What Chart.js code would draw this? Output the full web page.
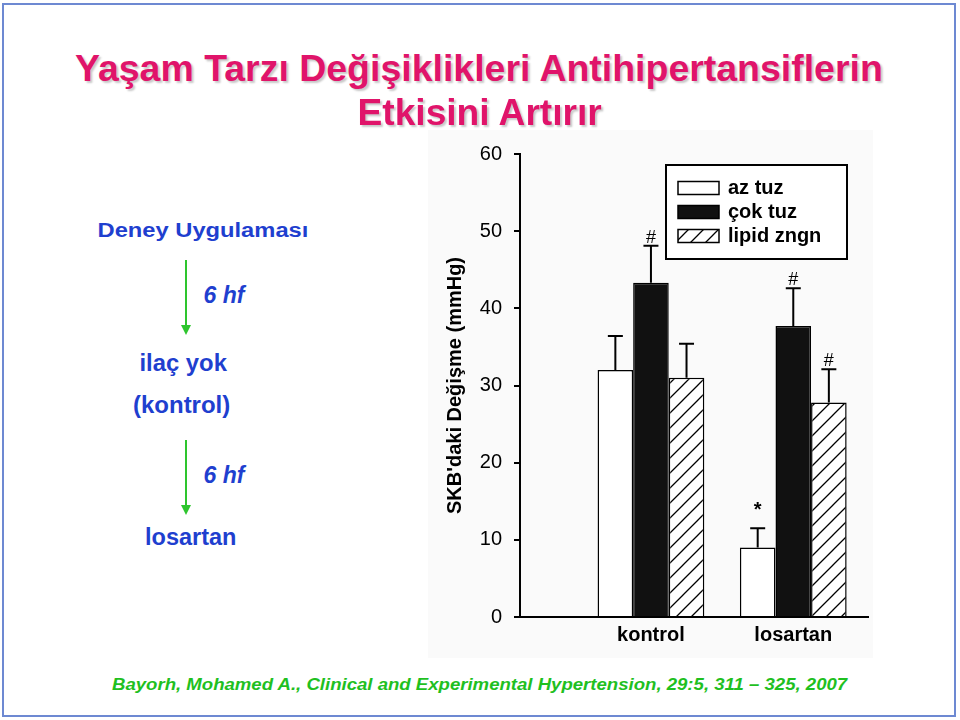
<!DOCTYPE html>
<html>
<head>
<meta charset="utf-8">
<script src="https://cdn.jsdelivr.net/npm/chart.js@4.4.1/dist/chart.umd.min.js"></script>
<style>
body{margin:0;background:#fff;font-family:"Liberation Sans",Arial,sans-serif;}
#page{position:relative;width:960px;height:720px;overflow:hidden;background:#fff;}
#frame{position:absolute;left:2px;top:3px;width:950px;height:710px;border:2px solid #6d89d2;}
.txt{position:absolute;white-space:nowrap;transform-origin:center top;}
.title{text-shadow:2px 2px 2px rgba(0,0,0,0.22);}
#chartBox{position:absolute;left:428px;top:130px;width:445px;height:528px;background:#fafafa;}
#arrows{position:absolute;left:0;top:0;}
</style>
</head>
<body>
<div id="page">
  <div id="frame"></div>
  <svg id="arrows" width="960" height="720">
    <line x1="186" y1="260" x2="186" y2="327" stroke="#2ec52e" stroke-width="2"/>
    <polygon points="181,325 191,325 186,335" fill="#2ec52e"/>
    <line x1="186" y1="440" x2="186" y2="507" stroke="#2ec52e" stroke-width="2"/>
    <polygon points="181,505 191,505 186,515" fill="#2ec52e"/>
  </svg>
  <div id="chartBox"><canvas id="bp-chart"></canvas></div>
</div>
<script>
// Chart data
const groups = ['kontrol', 'losartan'];
const seriesNames = ['az tuz', 'çok tuz', 'lipid zngn'];
const azTuz = [32.0, 9.0];
const cokTuz = [43.3, 37.7];
const lipidZngn = [31.0, 27.8];
// error bars (upper half only)
const azTuzErr = [4.4, 2.5];
const cokTuzErr = [4.8, 4.9];
const lipidZngnErr = [4.4, 4.3];
// significance marks above the bars
const azTuzMarks = ['', '*'];
const cokTuzMarks = ['#', '#'];
const lipidZngnMarks = ['', '#'];
const yTicks = [0, 10, 20, 30, 40, 50, 60];

const FONT = '"Liberation Sans", Arial, sans-serif';
Chart.defaults.font.family = FONT;
Chart.defaults.color = '#000';

//Slide texts
const page = document.getElementById('page');
function place(text, cx, base, size, style, color, width, cls) {
    const el = document.createElement('div');
    el.className = 'txt' + (cls ? ' ' + cls : '');
    el.textContent = text;
    el.style.font = style + ' ' + size + 'px ' + FONT;
    el.style.lineHeight = size + 'px';
    el.style.color = color;
    page.appendChild(el);
    const w = el.offsetWidth;
    el.style.left = (cx - w / 2) + 'px';
    el.style.top = (base - 0.8465 * size) + 'px';
    el.style.transform = 'scaleX(' + (width / w) + ')';
}
const pink = '#e0146a', blue = '#1f3fcf', green = '#1fc01f';
place('Yaşam Tarzı Değişiklikleri Antihipertansiflerin', 479, 81, 37, 'bold', pink, 808, 'title');
place('Etkisini Artırır', 479, 125, 37, 'bold', pink, 244, 'title');
place('Deney Uygulaması', 202.5, 237, 20, 'bold', blue, 211);
place('6 hf', 224, 303, 23, 'italic bold', blue, 41);
place('ilaç yok', 182.5, 371, 23, 'bold', blue, 87);
place('(kontrol)', 181.5, 413, 23, 'bold', blue, 97);
place('6 hf', 224, 483, 23, 'italic bold', blue, 41);
place('losartan', 190.5, 545, 23, 'bold', blue, 91);
place('Bayorh, Mohamed A., Clinical and Experimental Hypertension, 29:5, 311 – 325, 2007', 479.5, 691, 16, 'italic bold', green, 735);

//Hatch fill for the third series
function makeHatch() {
    const c = document.createElement('canvas');
    const s = 15;
    c.width = s; c.height = s;
    const g = c.getContext('2d');
    g.fillStyle = '#fff';
    g.fillRect(0, 0, s, s);
    g.strokeStyle = '#000';
    g.lineWidth = 1.3;
    g.beginPath();
    g.moveTo(0, s); g.lineTo(s, 0);
    g.moveTo(-2, 2); g.lineTo(2, -2);
    g.moveTo(s - 2, s + 2); g.lineTo(s + 2, s - 2);
    g.stroke();
    return g.createPattern(c, 'repeat');
}
const hatch = makeHatch();

function toPoints(arr) {
    return arr.map((v, i) => ({x: i + 1, y: v}));
}

//Error bars + marks
const errorBars = {
    id: 'errorBars',
    afterDatasetsDraw(chart) {
        const ctx = chart.ctx;
        const y = chart.scales.y;
        ctx.save();
        ctx.strokeStyle = '#000';
        ctx.lineWidth = 2;
        ctx.fillStyle = '#000';
        ctx.textAlign = 'center';
        ctx.textBaseline = 'alphabetic';
        chart.data.datasets.forEach((ds, i) => {
            chart.getDatasetMeta(i).data.forEach((bar, j) => {
                const top = y.getPixelForValue(ds.data[j].y + ds.errors[j]);
                ctx.beginPath();
                ctx.moveTo(bar.x, bar.y);
                ctx.lineTo(bar.x, top);
                ctx.moveTo(bar.x - 7.5, top);
                ctx.lineTo(bar.x + 7.5, top);
                ctx.stroke();
                const m = ds.marks[j];
                if (m === '#') {
                    ctx.font = '18px ' + FONT;
                    ctx.fillText(m, bar.x, top - 3);
                } else if (m === '*') {
                    ctx.font = 'bold 20px ' + FONT;
                    ctx.fillText(m, bar.x, top - 12);
                }
            });
        });
        ctx.restore();
    }
};

//Boxed legend inside the plot
const boxLegend = {
    id: 'boxLegend',
    afterDraw(chart) {
        const ctx = chart.ctx;
        const area = chart.chartArea;
        const left = area.right - 202, top = area.top + 11;
        ctx.save();
        ctx.fillStyle = '#fff';
        ctx.fillRect(left, top, 181, 94);
        ctx.strokeStyle = '#000';
        ctx.lineWidth = 2;
        ctx.strokeRect(left, top, 181, 94);
        ctx.font = 'bold 20px ' + FONT;
        ctx.textBaseline = 'middle';
        chart.data.datasets.forEach((ds, i) => {
            const cy = top + 23 + i * 24;
            ctx.fillStyle = ds.backgroundColor;
            ctx.fillRect(left + 12, cy - 6.5, 41, 13);
            ctx.lineWidth = 1.5;
            ctx.strokeRect(left + 12, cy - 6.5, 41, 13);
            ctx.fillStyle = '#000';
            ctx.fillText(ds.label, left + 62, cy);
        });
        ctx.restore();
    }
};

const ctx = document.getElementById('bp-chart').getContext('2d');
const chart = new Chart(ctx, {
    type: 'bar',
    data: {
        datasets: [
            {label: seriesNames[0], data: toPoints(azTuz), errors: azTuzErr, marks: azTuzMarks,
             backgroundColor: '#ffffff', borderColor: '#000', borderWidth: 1.5},
            {label: seriesNames[1], data: toPoints(cokTuz), errors: cokTuzErr, marks: cokTuzMarks,
             backgroundColor: '#111111', borderColor: '#000', borderWidth: 1.5},
            {label: seriesNames[2], data: toPoints(lipidZngn), errors: lipidZngnErr, marks: lipidZngnMarks,
             backgroundColor: hatch, borderColor: '#000', borderWidth: 1.5}
        ]
    },
    options: {
        responsive: true,
        maintainAspectRatio: false,
        animation: false,
        layout: {padding: {top: 15, right: 5, left: 0, bottom: 0}},
        plugins: {legend: {display: false}, tooltip: {enabled: false}},
        datasets: {bar: {categoryPercentage: 0.75, barPercentage: 1.0}},
        scales: {
            x: {
                type: 'linear',
                min: 0.08,
                max: 2.525,
                offset: false,
                afterBuildTicks: s => { s.ticks = groups.map((g, i) => ({value: i + 1})); },
                afterFit: s => { s.height = 41; },
                grid: {display: false, drawTicks: false, offset: false},
                border: {display: true, color: '#000', width: 2},
                ticks: {
                    callback: v => groups[v - 1],
                    color: '#000',
                    font: {size: 20, weight: 'bold'},
                    padding: 6,
                    autoSkip: false,
                    maxRotation: 0
                }
            },
            y: {
                min: yTicks[0],
                max: yTicks[yTicks.length - 1],
                afterFit: s => { s.width = 92; },
                grid: {drawOnChartArea: false, drawTicks: true, tickLength: 6, color: '#000', lineWidth: 2},
                border: {display: true, color: '#000', width: 2},
                ticks: {stepSize: 10, color: '#000', font: {size: 20}, padding: 12},
                title: {
                    display: true,
                    text: "SKB'daki Değişme (mmHg)",
                    color: '#000',
                    font: {size: 20, weight: 'bold'},
                    padding: {top: 15, bottom: 0}
                }
            }
        }
    },
    plugins: [errorBars, boxLegend]
});
</script>
</body>
</html>
